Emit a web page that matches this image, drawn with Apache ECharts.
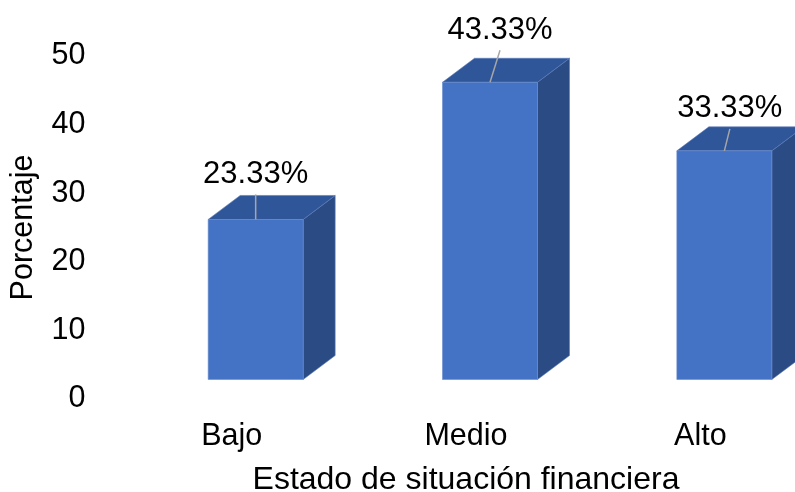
<!DOCTYPE html>
<html><head><meta charset="utf-8">
<script src="https://cdn.jsdelivr.net/npm/echarts@6/dist/echarts.min.js"></script>
<style>html,body{margin:0;padding:0;background:#fff}#c{width:795px;height:492px}</style>
</head><body><div id="c"></div>
<script>
const categories = ['Bajo', 'Medio', 'Alto'];
const values = [23.33, 43.33, 33.33];
const valueLabels = ['23.33%', '43.33%', '33.33%'];
const yTicks = [0, 10, 20, 30, 40, 50];
// label nudges relative to the bar top (layout only)
const labelNudge = [[0, -45], [10, -52], [5.5, -42]];

const FONT = '"Liberation Sans", Arial, sans-serif';
const DX = 32, DY = 24, SHIFT_X = 24, FLOOR = 19.5, BAR_W = 95;
const chart = echarts.init(document.getElementById('c'), null, {renderer: 'canvas'});

chart.setOption({
  animation: false,
  grid: {left: 114.5, top: 56, width: 703, height: 343, containLabel: false, outerBoundsMode: 'none'},
  xAxis: {
    type: 'category', data: categories,
    axisLine: {show: false}, axisTick: {show: false},
    axisLabel: {fontSize: 30.5, color: '#000', fontFamily: FONT, margin: 22},
    name: 'Estado de situación financiera', nameLocation: 'middle', nameGap: 65,
    nameTextStyle: {fontSize: 32, color: '#000', fontFamily: FONT}
  },
  yAxis: {
    type: 'value', min: yTicks[0], max: yTicks[yTicks.length - 1], interval: yTicks[1] - yTicks[0],
    axisLine: {show: false}, axisTick: {show: false}, splitLine: {show: false},
    axisLabel: {fontSize: 30.5, color: '#000', fontFamily: FONT, margin: 29, padding: [6, 0, 0, 0]},
    name: 'Porcentaje', nameLocation: 'middle', nameGap: 75, nameRotate: 90,
    nameTextStyle: {fontSize: 30.5, color: '#000', fontFamily: FONT}
  },
  series: [{
    type: 'custom',
    data: values.map((v, i) => [i, v]),
    renderItem: function (params, api) {
      const i = api.value(0), v = api.value(1);
      const top = api.coord([i, v]);
      const base = api.coord([i, 0]);
      const cx = top[0] + SHIFT_X;
      const x0 = cx - BAR_W / 2, x1 = cx + BAR_W / 2;
      const yt = top[1] - FLOOR, yb = base[1] - FLOOR;
      const n = labelNudge[params.dataIndex];
      const lx = cx + n[0], ly = yt + n[1];
      return {
        type: 'group',
        children: [
          {type: 'polygon', shape: {points: [[x1, yt], [x1 + DX, yt - DY], [x1 + DX, yb - DY], [x1, yb]]},
            style: {fill: '#2B4B84', stroke: '#5A7BB8', lineWidth: 0.6}},
          {type: 'polygon', shape: {points: [[x0, yt], [x0 + DX, yt - DY], [x1 + DX, yt - DY], [x1, yt]]},
            style: {fill: '#30569A', stroke: '#5A7BB8', lineWidth: 0.6}},
          {type: 'rect', shape: {x: x0, y: yt, width: BAR_W, height: yb - yt},
            style: {fill: '#4472C4', stroke: '#6A8DD0', lineWidth: 0.6}},
          {type: 'line', shape: {x1: lx, y1: ly + 20, x2: cx, y2: yt},
            style: {stroke: '#A6A6A6', lineWidth: 1.5}},
          {type: 'text', x: lx, y: ly,
            style: {text: valueLabels[params.dataIndex], fontSize: 31, fontFamily: FONT, fill: '#000',
              align: 'center', verticalAlign: 'middle'}}
        ]
      };
    }
  }]
});
</script>
</body></html>
